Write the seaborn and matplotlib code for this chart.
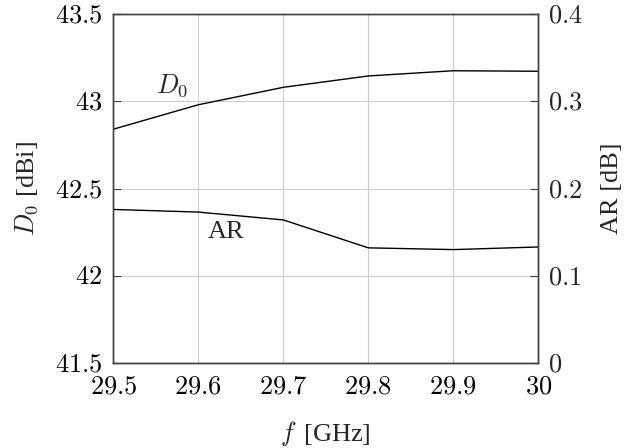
import numpy as np
import pandas as pd
import matplotlib
matplotlib.use("Agg")
import matplotlib.pyplot as plt
import seaborn as sns

# Frequency sweep and measured quantities
freq_ghz = [29.5, 29.6, 29.7, 29.8, 29.9, 30.0]
directivity_dbi = [42.84, 42.98, 43.08, 43.145, 43.175, 43.172]
axial_ratio_db = [0.176, 0.173, 0.164, 0.132, 0.130, 0.133]

x_ticks = [29.5, 29.6, 29.7, 29.8, 29.9, 30.0]
x_tick_labels = ["29.5", "29.6", "29.7", "29.8", "29.9", "30"]
left_ticks = [41.5, 42.0, 42.5, 43.0, 43.5]
left_tick_labels = ["41.5", "42", "42.5", "43", "43.5"]
right_ticks = [0.0, 0.1, 0.2, 0.3, 0.4]
right_tick_labels = ["0", "0.1", "0.2", "0.3", "0.4"]

sns.set_theme(style="white")
plt.rcParams["font.family"] = ["Liberation Serif", "DejaVu Serif"]
plt.rcParams["mathtext.fontset"] = "cm"

df = pd.DataFrame({"f": freq_ghz, "D0": directivity_dbi, "AR": axial_ratio_db})

fig = plt.figure(figsize=(6.42, 4.48), dpi=100)
ax = fig.add_axes([0.1765, 0.1897, 0.662, 0.7790])
ax2 = ax.twinx()

sns.lineplot(data=df, x="f", y="D0", ax=ax, color="black", linewidth=1.0)
sns.lineplot(data=df, x="f", y="AR", ax=ax2, color="black", linewidth=1.0)

ax.set_xlim(29.5, 30.0)
ax.set_ylim(41.5, 43.5)
ax2.set_ylim(0.0, 0.4)

fs = 19
ax.set_xticks(x_ticks)
ax.set_xticklabels([f"${t}$" for t in x_tick_labels], fontsize=fs)
ax.set_yticks(left_ticks)
ax.set_yticklabels([f"${t}$" for t in left_tick_labels], fontsize=fs)
ax2.set_yticks(right_ticks)
ax2.set_yticklabels([f"${t}$" for t in right_tick_labels], fontsize=fs)

ax.grid(True, color="#cccccc", linewidth=0.8)
ax.set_axisbelow(True)

for a in (ax, ax2):
    for s in a.spines.values():
        s.set_color("#404040")
        s.set_linewidth(1.0)
ax.tick_params(axis="both", direction="in", length=6, width=0.8, color="#404040", colors="black")
ax.tick_params(axis="y", pad=8)
ax.tick_params(axis="x", pad=10)
ax2.tick_params(axis="y", direction="in", length=6, width=0.8, color="#404040", pad=7)

ax.set_xlabel(r"$f\,$ [GHz]", fontsize=fs, va="center")
ax.xaxis.set_label_coords(0.5, -0.2006)
ax.set_ylabel(r"$D_0$ [dBi]", fontsize=fs, va="center")
ax.yaxis.set_label_coords(-0.203, 0.5)
ax2.set_ylabel("AR [dB]", fontsize=fs, va="center")
ax2.yaxis.set_label_coords(1.1727, 0.5)

ax.text(29.569, 43.09, r"$D_0$", fontsize=fs, ha="center", va="center")
ax.text(29.633, 42.252, "AR", fontsize=fs, ha="center", va="center")

fig.savefig("out.png", dpi=100)
